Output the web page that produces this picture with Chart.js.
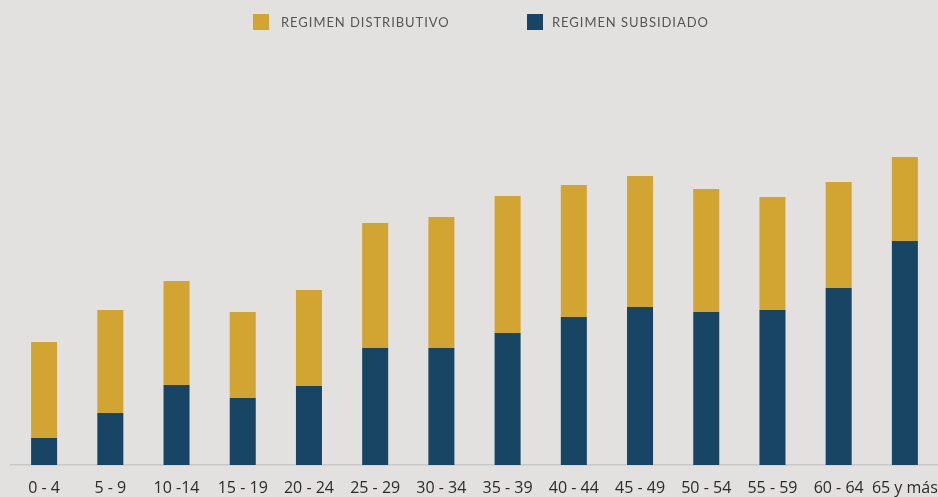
<!DOCTYPE html>
<html>
<head>
<meta charset="utf-8">
<script src="https://cdn.jsdelivr.net/npm/chart.js@4/dist/chart.umd.min.js"></script>
<style>
    html, body { margin: 0; padding: 0; background: #e2e1e0; }
    #wrap { position: relative; width: 938px; height: 497px; }
    #legend { position: absolute; top: 14px; left: 253px; font-family: Lato, sans-serif; font-size: 13px; letter-spacing: 0.95px; color: #555; }
    .item { position: absolute; top: 0; white-space: nowrap; }
    .box { position: absolute; top: 0; left: 0; width: 16px; height: 16px; }
    .txt { position: absolute; top: 0; line-height: 17px; }
</style>
</head>
<body>
<div id="wrap">
    <canvas id="chart" width="938" height="497"></canvas>
    <div id="legend">
        <div class="item" style="left:0"><span class="box" style="background:#d2a532"></span><span class="txt" style="left:28px">REGIMEN DISTRIBUTIVO</span></div>
        <div class="item" style="left:274px"><span class="box" style="background:#174563"></span><span class="txt" style="left:25px">REGIMEN SUBSIDIADO</span></div>
    </div>
</div>
<script>
const ageGroups = ['0 - 4', '5 - 9', '10 -14', '15 - 19', '20 - 24', '25 - 29', '30 - 34', '35 - 39', '40 - 44', '45 - 49', '50 - 54', '55 - 59', '60 - 64', '65 y más'];
const subsidiado = [27, 52, 80, 67, 79, 117, 117, 132, 148, 158, 153, 155, 177, 224];
const distributivo = [96, 103, 104, 86, 96, 125, 131, 137, 132, 131, 123, 113, 106, 84];

const ctx = document.getElementById('chart').getContext('2d');

new Chart(ctx, {
    type: 'bar',
    data: {
        labels: ageGroups,
        datasets: [
            {
                label: 'REGIMEN SUBSIDIADO',
                data: subsidiado,
                backgroundColor: '#174563',
                barPercentage: 0.393,
                categoryPercentage: 1
            },
            {
                label: 'REGIMEN DISTRIBUTIVO',
                data: distributivo,
                backgroundColor: '#d2a532',
                barPercentage: 0.393,
                categoryPercentage: 1
            }
        ]
    },
    options: {
        responsive: false,
        animation: false,
        layout: { padding: { top: 45, left: 11, right: 0, bottom: 0 } },
        plugins: {
            legend: { display: false },
            tooltip: { enabled: false }
        },
        scales: {
            x: {
                stacked: true,
                grid: { display: false, drawTicks: false },
                border: { display: true, color: '#c8c8c8', width: 1.5 },
                ticks: {
                    color: '#2b2b2b',
                    padding: 14,
                    maxRotation: 0,
                    autoSkip: false,
                    font: { family: 'Open Sans', size: 16 }
                },
                // fix axis height so the baseline sits where the original has it
                afterFit: function (scale) {
                    scale.height = 32;
                    scale.paddingLeft = 0;
                    scale.paddingRight = 0;
                }
            },
            y: {
                stacked: true,
                display: false,
                min: 0,
                max: 420
            }
        }
    }
});
</script>
</body>
</html>
